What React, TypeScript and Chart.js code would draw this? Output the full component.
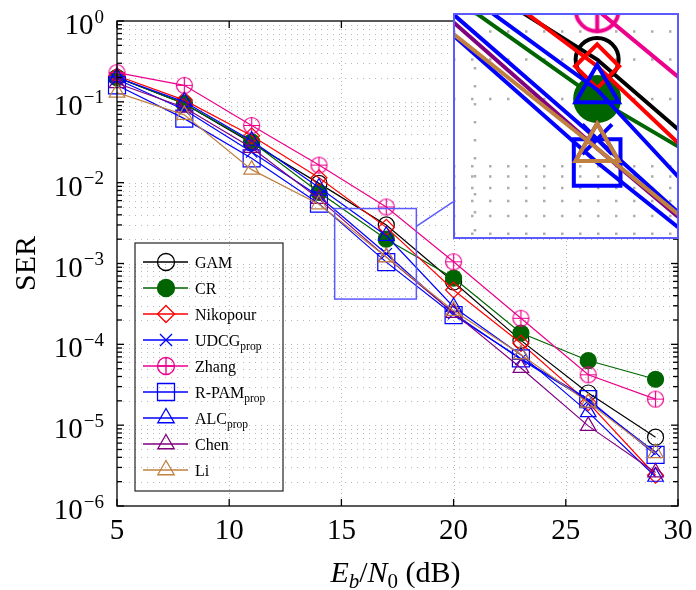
import React, { useEffect, useRef } from 'react';
import { Chart, registerables } from 'chart.js';
Chart.register(...registerables);

const W = 696;
const H = 590;
const FONT = "'Liberation Serif', 'Times New Roman', 'DejaVu Serif', serif";

// ---------- data ----------
const snr = [5, 8, 11, 14, 17, 20, 23, 26, 29];
const gam = [0.2, 0.095, 0.031, 0.0098, 0.003, 5.9e-4, 1.12e-4, 2.5e-5, 7.1e-6];
const cr = [0.2, 0.095, 0.032, 0.0076, 0.002, 6.6e-4, 1.38e-4, 6.3e-5, 3.7e-5];
const nikopour = [0.21, 0.105, 0.038, 0.0115, 0.0028, 4.7e-4, 1.03e-4, 1.9e-5, 2.4e-6];
const udcg = [0.19, 0.08, 0.024, 0.0068, 0.00132, 2.4e-4, 6.5e-5, 2.0e-5, 4.6e-6];
const zhang = [0.23, 0.16, 0.051, 0.0165, 0.005, 1.05e-3, 2.1e-4, 4.2e-5, 2.1e-5];
const rpam = [0.16, 0.062, 0.02, 0.0055, 0.00104, 2.3e-4, 6.7e-5, 2.1e-5, 4.3e-6];
const alc = [0.2, 0.1, 0.033, 0.0087, 0.0022, 2.9e-4, 7.4e-5, 1.45e-5, 2.3e-6];
const chen = [0.17, 0.085, 0.027, 0.0063, 0.0012, 2.45e-4, 5.1e-5, 9.8e-6, 2.6e-6];
const li = [0.13, 0.069, 0.0145, 0.0054, 0.0012, 2.6e-4, 7.5e-5, 1.9e-5, 4.5e-6];

const seriesValues = [gam, cr, nikopour, udcg, zhang, rpam, alc, chen, li];
const seriesNames = ['GAM', 'CR', 'Nikopour', 'UDCG', 'Zhang', 'R-PAM', 'ALC', 'Chen', 'Li'];
const seriesSubs = ['', '', '', 'prop', '', 'prop', 'prop', '', ''];
const seriesColors = ['#000000', '#006400', '#ff0000', '#0000ff', '#ec008c', '#0000ff', '#0000ff', '#800080', '#bf8040'];
const seriesMarkers = ['circle', 'disc', 'diamond', 'cross', 'oplus', 'square', 'triangle', 'triangle', 'triangle'];

// axes
const xTicks = [5, 10, 15, 20, 25, 30];
const yExps = [0, -1, -2, -3, -4, -5, -6];
const yMinorMult = [2, 3, 4, 5, 6, 7, 8, 9];
const xTitleText = ['E', 'b', '/', 'N', '0', ' (dB)'];
const yTitleText = 'SER';

// zoomed (spy) region and inset ranges
const spyX = [14.7, 18.34];
const spyY = [Math.pow(10, -3.44), Math.pow(10, -2.32)];
const insetX = [14.64, 18.34];
const insetY = [Math.pow(10, -3.325), Math.pow(10, -2.315)];

// ---------- derived ----------
const yTickValues: number[] = [];
for (const e of yExps) {
  yTickValues.push(Math.pow(10, e));
  if (e < 0) for (const m of yMinorMult) yTickValues.push(m * Math.pow(10, e));
}
yTickValues.sort((a, b) => a - b);
const isPow10 = (v: number) => Math.abs(Math.log10(v) - Math.round(Math.log10(v))) < 1e-9;

// layout constants
const INSET = { left: 453, top: 13, size: 226 };
const SPY_COLOR = '#5a5aff';

const MAIN_R: Record<string, number> = { circle: 8, disc: 8, diamond: 8, cross: 8, oplus: 8, square: 12, triangle: 9 };
const INSET_R: Record<string, number> = { circle: 21.5, disc: 22, diamond: 22, cross: 21, oplus: 21.5, square: 33, triangle: 25 };

function makeOplus(r: number, lw: number, color: string) {
  const c = document.createElement('canvas');
  const s = Math.ceil(2 * r + 2 * lw);
  c.width = s;
  c.height = s;
  const g = c.getContext('2d')!;
  g.strokeStyle = color;
  g.lineWidth = lw;
  const m = s / 2;
  g.beginPath();
  g.arc(m, m, r, 0, Math.PI * 2);
  g.moveTo(m - r, m);
  g.lineTo(m + r, m);
  g.moveTo(m, m - r);
  g.lineTo(m, m + r);
  g.stroke();
  return c;
}

function drawMarker(ctx: CanvasRenderingContext2D, type: string, x: number, y: number, r: number, color: string, lw: number) {
  ctx.save();
  ctx.strokeStyle = color;
  ctx.fillStyle = color;
  ctx.lineWidth = lw;
  ctx.setLineDash([]);
  ctx.beginPath();
  if (type === 'circle' || type === 'disc' || type === 'oplus') {
    ctx.arc(x, y, r, 0, Math.PI * 2);
    if (type === 'disc') ctx.fill();
    if (type === 'oplus') {
      ctx.moveTo(x - r, y); ctx.lineTo(x + r, y);
      ctx.moveTo(x, y - r); ctx.lineTo(x, y + r);
    }
  } else if (type === 'diamond') {
    ctx.moveTo(x, y - r); ctx.lineTo(x + r, y); ctx.lineTo(x, y + r); ctx.lineTo(x - r, y); ctx.closePath();
  } else if (type === 'cross') {
    const d = r * Math.SQRT1_2;
    ctx.moveTo(x - d, y - d); ctx.lineTo(x + d, y + d);
    ctx.moveTo(x + d, y - d); ctx.lineTo(x - d, y + d);
  } else if (type === 'square') {
    const s = r * Math.SQRT1_2;
    ctx.rect(x - s, y - s, 2 * s, 2 * s);
  } else if (type === 'triangle') {
    const sx = r * Math.sin((2 * Math.PI) / 3);
    ctx.moveTo(x, y - r); ctx.lineTo(x + sx, y + r / 2); ctx.lineTo(x - sx, y + r / 2); ctx.closePath();
  }
  ctx.stroke();
  ctx.restore();
}

function buildDatasets(radii: Record<string, number>, lw: number, mlw: number, clip: boolean) {
  return seriesValues.map((vals, i) => {
    const mk = seriesMarkers[i];
    const col = seriesColors[i];
    const r = radii[mk];
    let style: any = 'circle';
    if (mk === 'diamond') style = 'rectRot';
    else if (mk === 'cross') style = 'crossRot';
    else if (mk === 'square') style = 'rect';
    else if (mk === 'triangle') style = 'triangle';
    else if (mk === 'oplus') style = makeOplus(r, mlw, col);
    return {
      label: seriesNames[i] + seriesSubs[i],
      data: snr.map((x, j) => ({ x, y: vals[j] })),
      borderColor: col,
      backgroundColor: col,
      borderWidth: lw,
      pointStyle: style,
      pointRadius: r,
      pointHoverRadius: r,
      pointBorderColor: col,
      pointBackgroundColor: mk === 'disc' ? col : 'rgba(0,0,0,0)',
      pointBorderWidth: mlw,
      tension: 0,
      order: seriesValues.length - 1 - i,
      clip: clip ? undefined : false,
    } as any;
  });
}

function hline(ctx: CanvasRenderingContext2D, x0: number, x1: number, y: number) {
  ctx.beginPath(); ctx.moveTo(x0, y); ctx.lineTo(x1, y); ctx.stroke();
}
function vline(ctx: CanvasRenderingContext2D, x: number, y0: number, y1: number) {
  ctx.beginPath(); ctx.moveTo(x, y0); ctx.lineTo(x, y1); ctx.stroke();
}

const mainPlugin = {
  id: 'mainDeco',
  beforeDatasetsDraw(chart: any) {
    const { ctx, chartArea: a, scales } = chart;
    const x = scales.x, y = scales.y;
    ctx.save();
    ctx.strokeStyle = '#b9b9b9';
    ctx.lineWidth = 1;
    ctx.setLineDash([1, 5]);
    for (const t of y.ticks) {
      const py = Math.round(y.getPixelForValue(t.value)) + 0.5;
      if (py <= a.top + 1 || py >= a.bottom - 1) continue;
      hline(ctx, a.left, a.right, py);
    }
    ctx.setLineDash([1, 3]);
    for (const t of x.ticks) {
      const px = Math.round(x.getPixelForValue(t.value)) + 0.5;
      if (px <= a.left + 1 || px >= a.right - 1) continue;
      vline(ctx, px, a.top, a.bottom);
    }
    ctx.restore();
  },
  afterDatasetsDraw(chart: any) {
    const { ctx, chartArea: a, scales } = chart;
    const x = scales.x, y = scales.y;
    ctx.save();
    ctx.setLineDash([]);
    ctx.strokeStyle = '#000';
    ctx.lineWidth = 1.3;
    // ticks (inward)
    for (const t of y.ticks) {
      const py = y.getPixelForValue(t.value);
      const len = isPow10(t.value) ? 7 : 5;
      hline(ctx, a.left, a.left + len, py);
      hline(ctx, a.right - len, a.right, py);
    }
    for (const t of x.ticks) {
      const px = x.getPixelForValue(t.value);
      vline(ctx, px, a.bottom, a.bottom - 7);
      vline(ctx, px, a.top, a.top + 7);
    }
    ctx.strokeRect(a.left, a.top, a.right - a.left, a.bottom - a.top);

    // y tick labels 10^e
    ctx.fillStyle = '#000';
    ctx.textAlign = 'right';
    ctx.textBaseline = 'alphabetic';
    for (const t of y.ticks) {
      if (!isPow10(t.value)) continue;
      const e = Math.round(Math.log10(t.value));
      const py = y.getPixelForValue(t.value);
      const expStr = e < 0 ? '\u2212' + String(-e) : String(e);
      ctx.font = `19px ${FONT}`;
      const ew = ctx.measureText(expStr).width;
      const right = a.left - 13;
      ctx.fillText(expStr, right, py + 1.5);
      ctx.font = `29px ${FONT}`;
      ctx.fillText('10', right - ew - 1, py + 13);
    }

    // x title
    const parts = [
      { t: xTitleText[0], it: true, sz: 30, dy: 0 },
      { t: xTitleText[1], it: true, sz: 21, dy: 6 },
      { t: xTitleText[2], it: false, sz: 30, dy: 0 },
      { t: xTitleText[3], it: true, sz: 30, dy: 0 },
      { t: xTitleText[4], it: false, sz: 21, dy: 6 },
      { t: xTitleText[5], it: false, sz: 30, dy: 0 },
    ];
    ctx.textAlign = 'left';
    let total = 0;
    const widths = parts.map((p) => {
      ctx.font = `${p.it ? 'italic ' : ''}${p.sz}px ${FONT}`;
      const w = ctx.measureText(p.t).width;
      total += w;
      return w;
    });
    let cx = (a.left + a.right) / 2 - total / 2 - 2;
    parts.forEach((p, i) => {
      ctx.font = `${p.it ? 'italic ' : ''}${p.sz}px ${FONT}`;
      ctx.fillText(p.t, cx, 582 + p.dy);
      cx += widths[i];
    });

    // y title
    ctx.save();
    ctx.translate(35, (a.top + a.bottom) / 2);
    ctx.rotate(-Math.PI / 2);
    ctx.textAlign = 'center';
    ctx.font = `30px ${FONT}`;
    ctx.fillText(yTitleText, 0, 0);
    ctx.restore();

    // spy rectangle + connector
    const rx0 = x.getPixelForValue(spyX[0]);
    const rx1 = x.getPixelForValue(spyX[1]);
    const ry0 = y.getPixelForValue(spyY[1]);
    const ry1 = y.getPixelForValue(spyY[0]);
    ctx.strokeStyle = SPY_COLOR;
    ctx.lineWidth = 1.5;
    ctx.strokeRect(rx0, ry0, rx1 - rx0, ry1 - ry0);
    const c1x = (rx0 + rx1) / 2, c1y = (ry0 + ry1) / 2;
    const c2x = INSET.left + INSET.size / 2, c2y = INSET.top + INSET.size / 2;
    const t0 = (rx1 - c1x) / (c2x - c1x);
    const t1 = (INSET.left - c1x) / (c2x - c1x);
    ctx.beginPath();
    ctx.moveTo(c1x + t0 * (c2x - c1x), c1y + t0 * (c2y - c1y));
    ctx.lineTo(c1x + t1 * (c2x - c1x), c1y + t1 * (c2y - c1y));
    ctx.stroke();

    // legend
    const L = { left: 135, top: 243, right: 283, bottom: 491 };
    ctx.strokeStyle = '#222';
    ctx.lineWidth = 1.2;
    ctx.strokeRect(L.left, L.top, L.right - L.left, L.bottom - L.top);
    seriesNames.forEach((name, i) => {
      const ey = 262 + 26 * i;
      const col = seriesColors[i];
      ctx.strokeStyle = col;
      ctx.lineWidth = 1.3;
      hline(ctx, 143, 188, ey);
      const mk = seriesMarkers[i];
      const r = mk === 'square' ? 12 : mk === 'triangle' ? 9.5 : 8.5;
      drawMarker(ctx, mk, 166, ey, r, col, 1.3);
      ctx.fillStyle = '#000';
      ctx.font = `16px ${FONT}`;
      ctx.textAlign = 'left';
      ctx.fillText(name, 195, ey + 6);
      if (seriesSubs[i]) {
        const w = ctx.measureText(name).width;
        ctx.font = `11.5px ${FONT}`;
        ctx.fillText(seriesSubs[i], 195 + w, ey + 10);
      }
    });
    ctx.restore();
  },
};

const insetPlugin = {
  id: 'insetDeco',
  beforeDraw(chart: any) {
    const { ctx, width, height } = chart;
    ctx.save();
    ctx.fillStyle = '#fff';
    ctx.fillRect(0, 0, width, height);
    ctx.restore();
  },
  beforeDatasetsDraw(chart: any) {
    const { ctx, chartArea: a, scales } = chart;
    const x = scales.x, y = scales.y;
    ctx.save();
    ctx.strokeStyle = '#adadad';
    ctx.lineWidth = 2.5;
    ctx.setLineDash([2.5, 15.5]);
    for (const v of yTickValues) {
      const py = y.getPixelForValue(v);
      if (py <= a.top + 1 || py >= a.bottom - 1) continue;
      hline(ctx, a.left, a.right, py);
    }
    for (const v of xTicks) {
      const px = x.getPixelForValue(v);
      if (px <= a.left + 1 || px >= a.right - 1) continue;
      vline(ctx, px, a.top, a.bottom);
    }
    ctx.restore();
  },
  afterDraw(chart: any) {
    const { ctx, width, height } = chart;
    ctx.save();
    ctx.strokeStyle = SPY_COLOR;
    ctx.lineWidth = 2;
    ctx.strokeRect(1, 1, width - 2, height - 2);
    ctx.restore();
  },
};

export default function App() {
  const mainRef = useRef<HTMLCanvasElement>(null);
  const insetRef = useRef<HTMLCanvasElement>(null);

  useEffect(() => {
    const main = new Chart(mainRef.current!, {
      type: 'line',
      data: { datasets: buildDatasets(MAIN_R, 1.2, 1.2, false) },
      options: {
        responsive: false,
        animation: false,
        events: [],
        layout: { autoPadding: false, padding: { left: 0, top: 21, right: 18, bottom: 0 } },
        plugins: { legend: { display: false }, tooltip: { enabled: false } },
        scales: {
          x: {
            type: 'linear',
            min: 5,
            max: 30,
            grid: { display: false, drawTicks: false },
            border: { display: false },
            afterBuildTicks: (s: any) => { s.ticks = xTicks.map((v) => ({ value: v })); },
            afterFit: (s: any) => { s.height = 84; s.paddingLeft = 0; s.paddingRight = 0; },
            ticks: {
              font: { family: FONT, size: 29 },
              color: '#000',
              padding: 8,
              maxRotation: 0,
              autoSkip: false,
              callback: (v: any) => String(v),
            },
          },
          y: {
            type: 'logarithmic',
            min: 1e-6,
            max: 1,
            grid: { display: false, drawTicks: false },
            border: { display: false },
            afterBuildTicks: (s: any) => { s.ticks = yTickValues.map((v) => ({ value: v, major: isPow10(v) })); },
            afterFit: (s: any) => { s.width = 117; s.paddingTop = 0; s.paddingBottom = 0; },
            ticks: { display: false },
          },
        },
      } as any,
      plugins: [mainPlugin],
    });

    const inset = new Chart(insetRef.current!, {
      type: 'line',
      data: { datasets: buildDatasets(INSET_R, 4, 4, true) },
      options: {
        responsive: false,
        animation: false,
        events: [],
        layout: { autoPadding: false, padding: 0 },
        plugins: { legend: { display: false }, tooltip: { enabled: false } },
        scales: {
          x: { type: 'linear', display: false, min: insetX[0], max: insetX[1] },
          y: { type: 'logarithmic', display: false, min: insetY[0], max: insetY[1] },
        },
      } as any,
      plugins: [insetPlugin],
    });

    return () => {
      main.destroy();
      inset.destroy();
    };
  }, []);

  return (
    <div style={{ position: 'absolute', left: 0, top: 0, width: W, height: H, background: '#fff' }}>
      <canvas ref={mainRef} width={W} height={H} style={{ position: 'absolute', left: 0, top: 0 }} />
      <canvas
        ref={insetRef}
        width={INSET.size}
        height={INSET.size}
        style={{ position: 'absolute', left: INSET.left, top: INSET.top }}
      />
    </div>
  );
}
